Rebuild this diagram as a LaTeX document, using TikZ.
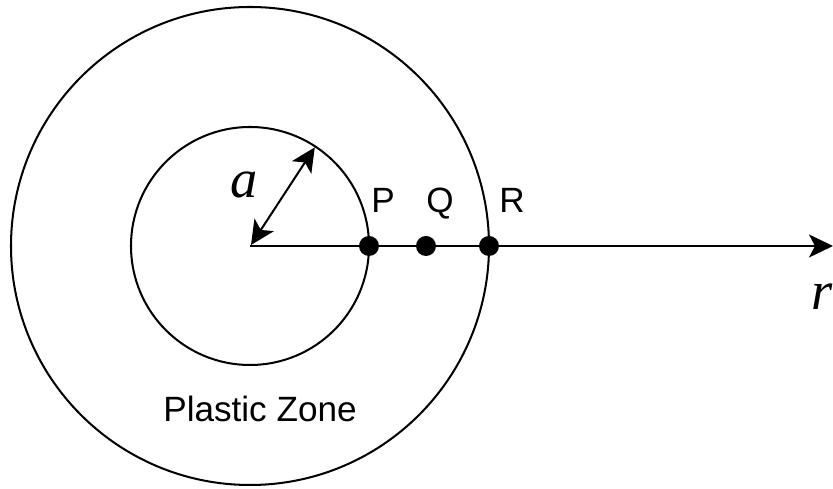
\documentclass[tikz,border=0pt]{standalone}
\usepackage{fontspec}
\setmainfont{Liberation Sans}
\newfontfamily\mathserif{Liberation Serif}
\usetikzlibrary{arrows.meta,positioning,calc}

\begin{document}
\begin{tikzpicture}[x=0.02cm, y=0.02cm,
    line width=1.15pt,
    pt/.style={circle, fill=black, inner sep=0pt, minimum size=0.4cm},
    lbl/.style={anchor=base, font=\fontsize{20}{22}\selectfont},
    var/.style={anchor=base, font=\fontsize{31}{33}\selectfont\mathserif\itshape},
    tip/.tip={Stealth[length=0.48cm, width=0.46cm, inset=0.12cm]},
    arr/.style={-tip},
    darr/.style={tip-tip}
]
\useasboundingbox (0,0) rectangle (833,489);

% circles
\coordinate (O) at (250,243);
\draw (O) circle[radius=119];
\draw (O) circle[radius=239];

% radial axis
\coordinate (rend) at (833,243);
\coordinate (astart) at ($(O)+(1,1)$);
\coordinate (aend) at ($(O)+(56.7:118)$);

% points
\node[pt] (P) at (369,243) {};
\node[pt] (Q) at (426,243) {};
\node[pt] (R) at (489,243) {};

\draw[arr] (O) -- (rend);
\draw[darr] (astart) -- (aend);

% labels
\node[lbl] (Plbl) at (383,276) {P};
\node[lbl] (Qlbl) at (440,276) {Q};
\node[lbl] (Rlbl) at (512,276) {R};
\node[var] (alabel) at (244,291) {a};
\node[var] (rlabel) at (822,179) {r};
\node[lbl] (zone) at (260,67) {Plastic Zone};
\end{tikzpicture}
\end{document}
